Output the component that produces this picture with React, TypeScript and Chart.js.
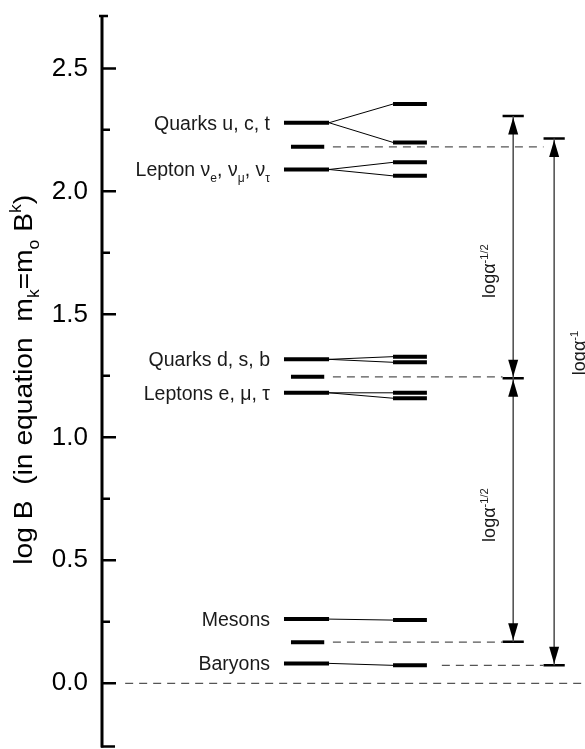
import React, { useEffect, useRef } from 'react';
import { Chart, registerables } from 'chart.js';

Chart.register(...registerables);

// ---------------- data (log B values) ----------------
const groupLabels = [
  'Quarks u, c, t',
  'Lepton ν_{e}, ν_{μ}, ν_{τ}',
  'Quarks d, s, b',
  'Leptons e, μ, τ',
  'Mesons',
  'Baryons',
];
const baseLevels = [2.279, 2.089, 1.317, 1.181, 0.261, 0.081];
const splitLevels = [
  [2.355, 2.199],
  [2.118, 2.063],
  [1.328, 1.305],
  [1.181, 1.159],
  [0.257],
  [0.073],
];
const midLevels = [2.181, 1.246, 0.167];
const midTargets = ['B', 'A', 'A'];
const arrowALevels = [2.306, 1.24, 0.169];
const arrowBLevels = [2.215, 0.073];
const arrowALabels = ['logα^{-1/2}', 'logα^{-1/2}'];
const arrowBLabels = ['logα^{-1}'];
const arrowALabelAt = [1.676, 0.684];
const arrowBLabelAt = [1.343];
const baselineLevel = 0;
const yTickValues = [0, 0.5, 1.0, 1.5, 2.0, 2.5];
const yMinorTickValues = [0.25, 0.75, 1.25, 1.75, 2.25];
const yTitle = 'log B  (in equation  m_{k}=m_{o} B^{k})';
const Y_MIN = -0.261;
const Y_MAX = 2.717;

// ---------------- layout (x in hidden 0..100 scale units) ----------------
const LEFT_BAR: [number, number] = [37.55, 46.9];
const MID_BAR: [number, number] = [39.0, 45.9];
const RIGHT_BAR: [number, number] = [60.17, 67.2];
const DASH_START = 47.7;
const BARYON_DASH_START = 70.3;
const ZERO_DASH_START = 4.6;
const ARROW_A_X = 85.1;
const ARROW_B_X = 93.6;
const CAP_HALF = 2.2;
const FAMILY = "'Liberation Sans', Arial, sans-serif";

type Seg = { t: string; k: number };
function parseRich(s: string): Seg[] {
  const segs: Seg[] = [];
  const re = /([_^])\{([^}]*)\}/g;
  let last = 0;
  let m: RegExpExecArray | null;
  while ((m = re.exec(s))) {
    if (m.index > last) segs.push({ t: s.slice(last, m.index), k: 0 });
    segs.push({ t: m[2], k: m[1] === '_' ? -1 : 1 });
    last = re.lastIndex;
  }
  if (last < s.length) segs.push({ t: s.slice(last), k: 0 });
  return segs;
}
function segFont(size: number, k: number) {
  return `${k ? size * 0.62 : size}px ${FAMILY}`;
}
function richWidth(ctx: CanvasRenderingContext2D, segs: Seg[], size: number) {
  let w = 0;
  for (const s of segs) {
    ctx.font = segFont(size, s.k);
    w += ctx.measureText(s.t).width;
  }
  return w;
}
function drawRich(ctx: CanvasRenderingContext2D, segs: Seg[], x: number, y: number, size: number) {
  let cx = x;
  ctx.textAlign = 'left';
  ctx.textBaseline = 'alphabetic';
  for (const s of segs) {
    ctx.font = segFont(size, s.k);
    const dy = s.k < 0 ? size * 0.28 : s.k > 0 ? -size * 0.42 : 0;
    ctx.fillText(s.t, cx, y + dy);
    cx += ctx.measureText(s.t).width;
  }
}

function seg(x0: number, y0: number, x1: number, y1: number, width: number, color: string, dash: number[] = []) {
  return {
    data: [
      { x: x0, y: y0 },
      { x: x1, y: y1 },
    ],
    showLine: true,
    borderColor: color,
    borderWidth: width,
    borderDash: dash,
    borderCapStyle: 'butt',
    pointRadius: 0,
    pointHoverRadius: 0,
    fill: false,
  };
}

function buildDatasets() {
  const ds: any[] = [];
  const DASH = [8, 6];
  const GRAY = '#555555';
  ds.push(seg(ZERO_DASH_START, baselineLevel, 100, baselineLevel, 1.3, GRAY, DASH));
  midLevels.forEach((v, i) => {
    ds.push(seg(MID_BAR[0], v, MID_BAR[1], v, 4, '#000'));
    const end = midTargets[i] === 'B' ? ARROW_B_X - CAP_HALF : ARROW_A_X - CAP_HALF;
    ds.push(seg(DASH_START, v, end, v, 1.3, GRAY, DASH));
  });
  ds.push(seg(BARYON_DASH_START, arrowBLevels[1], ARROW_B_X - CAP_HALF, arrowBLevels[1], 1.3, GRAY, DASH));
  baseLevels.forEach((v, i) => {
    ds.push(seg(LEFT_BAR[0], v, LEFT_BAR[1], v, 4, '#000'));
    splitLevels[i].forEach((s) => {
      ds.push(seg(LEFT_BAR[1], v, RIGHT_BAR[0], s, 1, '#000'));
      ds.push(seg(RIGHT_BAR[0], s, RIGHT_BAR[1], s, 4, '#000'));
    });
  });
  ds.push(seg(ARROW_A_X, arrowALevels[0], ARROW_A_X, arrowALevels[arrowALevels.length - 1], 1.5, '#4a4a4a'));
  ds.push(seg(ARROW_B_X, arrowBLevels[0], ARROW_B_X, arrowBLevels[arrowBLevels.length - 1], 1.5, '#4a4a4a'));
  arrowALevels.forEach((v) => ds.push(seg(ARROW_A_X - CAP_HALF, v, ARROW_A_X + CAP_HALF, v, 2.5, '#000')));
  arrowBLevels.forEach((v) => ds.push(seg(ARROW_B_X - CAP_HALF, v, ARROW_B_X + CAP_HALF, v, 2.5, '#000')));
  return ds;
}

const decorPlugin = {
  id: 'decor',
  afterDatasetsDraw(chart: any) {
    const ctx: CanvasRenderingContext2D = chart.ctx;
    const xs = chart.scales.x;
    const ys = chart.scales.y;
    const area = chart.chartArea;
    ctx.save();
    const ax = area.left - 1;
    ctx.strokeStyle = '#000';
    ctx.lineWidth = 3;
    ctx.beginPath();
    ctx.moveTo(ax, area.top);
    ctx.lineTo(ax, area.bottom);
    ctx.stroke();
    ctx.lineWidth = 2.5;
    ctx.beginPath();
    yTickValues.forEach((v) => {
      const py = ys.getPixelForValue(v);
      ctx.moveTo(ax, py);
      ctx.lineTo(ax + 14, py);
    });
    yMinorTickValues.forEach((v) => {
      const py = ys.getPixelForValue(v);
      ctx.moveTo(ax, py);
      ctx.lineTo(ax + 8, py);
    });
    ctx.moveTo(ax - 3, area.top + 1);
    ctx.lineTo(ax + 6, area.top + 1);
    ctx.moveTo(ax - 1, area.bottom - 1);
    ctx.lineTo(ax + 13, area.bottom - 1);
    ctx.stroke();

    const head = (x: number, tipY: number, dir: number) => {
      ctx.beginPath();
      ctx.moveTo(x, tipY);
      ctx.lineTo(x - 5, tipY + dir * 17);
      ctx.lineTo(x + 5, tipY + dir * 17);
      ctx.closePath();
      ctx.fill();
    };
    ctx.fillStyle = '#000';
    const drawHeads = (xv: number, levels: number[]) => {
      const px = xs.getPixelForValue(xv);
      for (let i = 0; i < levels.length - 1; i++) {
        head(px, ys.getPixelForValue(levels[i]) + 1.5, 1);
        head(px, ys.getPixelForValue(levels[i + 1]) - 1.5, -1);
      }
    };
    drawHeads(ARROW_A_X, arrowALevels);
    drawHeads(ARROW_B_X, arrowBLevels);

    ctx.fillStyle = '#1a1a1a';
    const labelSize = 19.5;
    const rightEdge = xs.getPixelForValue(LEFT_BAR[0]) - 14;
    groupLabels.forEach((lab, i) => {
      const segs = parseRich(lab);
      const w = richWidth(ctx, segs, labelSize);
      const py = ys.getPixelForValue(baseLevels[i]);
      drawRich(ctx, segs, rightEdge - w, py + labelSize * 0.36, labelSize);
    });

    const rotated = (text: string, baseX: number, cy: number, size: number, len?: number) => {
      const segs = parseRich(text);
      const w = richWidth(ctx, segs, size);
      ctx.save();
      ctx.translate(baseX, cy);
      ctx.rotate(-Math.PI / 2);
      if (len) ctx.scale(len / w, 1);
      drawRich(ctx, segs, -w / 2, 0, size);
      ctx.restore();
    };
    ctx.fillStyle = '#1a1a1a';
    arrowALabels.forEach((t, i) => rotated(t, xs.getPixelForValue(ARROW_A_X) - 18, ys.getPixelForValue(arrowALabelAt[i]), 18));
    arrowBLabels.forEach((t, i) => rotated(t, xs.getPixelForValue(ARROW_B_X) + 31, ys.getPixelForValue(arrowBLabelAt[i]), 18));
    ctx.fillStyle = '#000';
    rotated(yTitle, 32, (ys.getPixelForValue(0.5) + ys.getPixelForValue(2.0)) / 2 + 4, 26, 370);
    ctx.restore();
  },
};

export default function App() {
  const ref = useRef<HTMLCanvasElement | null>(null);
  useEffect(() => {
    if (!ref.current) return;
    const chart = new Chart(ref.current, {
      type: 'scatter',
      data: { datasets: buildDatasets() },
      options: {
        animation: false,
        responsive: true,
        maintainAspectRatio: false,
        layout: { padding: { top: 15, bottom: 1.5, left: 0, right: 0 } },
        plugins: { legend: { display: false }, tooltip: { enabled: false } },
        events: [],
        scales: {
          x: { type: 'linear', min: 0, max: 100, display: false },
          y: {
            type: 'linear',
            min: Y_MIN,
            max: Y_MAX,
            afterFit: (s: any) => {
              s.width = 103;
              s.paddingTop = 0;
              s.paddingBottom = 0;
            },
            afterBuildTicks: (s: any) => {
              s.ticks = yTickValues.map((v) => ({ value: v }));
            },
            grid: { display: false, drawTicks: false },
            border: { display: false },
            ticks: {
              padding: 15,
              color: '#000',
              font: { family: FAMILY, size: 26 },
              callback: (v: any) => Number(v).toFixed(1),
            },
          },
        },
      } as any,
      plugins: [decorPlugin],
    });
    return () => chart.destroy();
  }, []);
  return (
    <div style={{ position: 'absolute', left: 0, top: 0, width: 585, height: 749, background: '#fff' }}>
      <canvas ref={ref} />
    </div>
  );
}
